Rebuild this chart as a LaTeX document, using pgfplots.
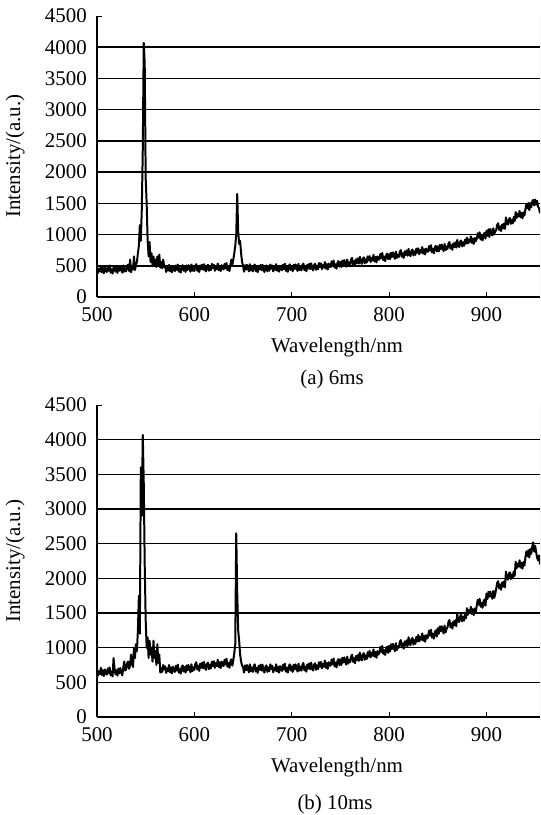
\documentclass[border=0pt]{standalone}
\usepackage{fontspec}
\setmainfont{Liberation Serif}
\usepackage{pgfplots}
\pgfplotsset{compat=1.18}

\begin{document}
\fontsize{21}{25}\selectfont
\begin{tikzpicture}[x=1bp,y=1bp]
\useasboundingbox (0,0) rectangle (541,815);
\pgfplotsset{
  every axis/.append style={
    scale only axis, width=443bp,
    font=\fontsize{21}{25}\selectfont,
    xmin=500, xmax=955, ymin=0, ymax=4500,
    axis x line*=bottom, axis y line*=left,
    x axis line style={line width=2pt, -},
    y axis line style={line width=1.2pt, -},
    xtick={500,600,...,900}, ytick={0,500,...,4500},
    tick style={black, line width=0.8pt},
    major tick length=5bp, tick align=inside,
    extra y ticks={500,1000,...,4000},
    extra y tick labels={},
    extra y tick style={grid=major, major tick length=0pt},
    grid style={black, line width=1.5pt},
    /pgf/number format/assume math mode=true,
    /pgf/number format/1000 sep={},
    yticklabel style={xshift=-3bp},
    xticklabel style={yshift=-3bp},
    clip=true,
  },
  spec/.style={black, line width=2pt, line join=round, mark=none},
}
% ---------------- (a) 6ms ----------------
\begin{axis}[at={(97bp,518bp)}, anchor=south west, height=281bp]
\draw[gray!45, line width=0.8pt] (rel axis cs:1,0) -- (rel axis cs:1,1);
\addplot[spec] coordinates {
(500,480)(501,385)(502,450)(503,410)(504,500)(505,395)(506,465)(507,380)(508,475)(509,425)
(510,400)(511,490)(512,420)(513,505)(514,390)(515,445)(516,375)(517,470)(518,495)(519,405)
(520,465)(521,385)(522,490)(523,420)(524,495)(525,435)(526,390)(527,505)(528,405)(529,460)
(530,410)(531,495)(532,520)(533,415)(534,600)(535,395)(536,500)(537,440)(538,650)(539,430)
(540,520)(541,560)(542,700)(543,820)(544,1150)(545,900)(546,1400)(547,2350)(548,4070)(549,3750)
(550,1900)(551,1500)(552,900)(553,650)(554,880)(555,560)(556,700)(557,520)(558,650)(559,500)
(560,600)(561,480)(562,650)(563,500)(564,680)(565,470)(566,560)(567,460)(568,600)(569,480)
(570,495)(571,400)(572,465)(573,425)(574,515)(575,410)(576,480)(577,395)(578,490)(579,440)
(580,415)(581,505)(582,435)(583,520)(584,405)(585,460)(586,390)(587,485)(588,510)(589,420)
(590,480)(591,400)(592,505)(593,435)(594,510)(595,450)(596,405)(597,520)(598,420)(599,475)
(600,415)(601,500)(602,525)(603,420)(604,475)(605,400)(606,505)(607,445)(608,520)(609,435)
(610,525)(611,435)(612,410)(613,495)(614,515)(615,420)(616,485)(617,430)(618,530)(619,465)
(620,515)(621,420)(622,485)(623,445)(624,535)(625,430)(626,500)(627,415)(628,510)(629,460)
(630,440)(631,530)(632,460)(633,545)(634,430)(635,485)(636,415)(637,510)(638,600)(639,520)
(640,600)(641,700)(642,820)(643,1000)(644,1650)(645,1050)(646,850)(647,900)(648,700)(649,560)
(650,500)(651,405)(652,510)(653,440)(654,515)(655,455)(656,410)(657,525)(658,425)(659,480)
(660,410)(661,495)(662,520)(663,415)(664,470)(665,395)(666,500)(667,440)(668,515)(669,430)
(670,515)(671,425)(672,400)(673,485)(674,505)(675,410)(676,475)(677,420)(678,520)(679,455)
(680,505)(681,410)(682,475)(683,435)(684,525)(685,420)(686,490)(687,405)(688,500)(689,450)
(690,428)(691,518)(692,448)(693,533)(694,418)(695,473)(696,403)(697,498)(698,523)(699,433)
(700,492)(701,412)(702,517)(703,447)(704,522)(705,462)(706,417)(707,532)(708,432)(709,487)
(710,426)(711,511)(712,536)(713,431)(714,486)(715,411)(716,516)(717,456)(718,531)(719,446)
(720,540)(721,450)(722,425)(723,510)(724,530)(725,435)(726,500)(727,445)(728,545)(729,480)
(730,540)(731,445)(732,510)(733,470)(734,560)(735,455)(736,525)(737,440)(738,535)(739,485)
(740,480)(741,570)(742,500)(743,585)(744,470)(745,525)(746,455)(747,550)(748,575)(749,485)
(750,560)(751,480)(752,585)(753,515)(754,590)(755,530)(756,485)(757,600)(758,500)(759,555)
(760,515)(761,600)(762,625)(763,520)(764,575)(765,500)(766,605)(767,545)(768,620)(769,535)
(770,645)(771,555)(772,530)(773,615)(774,635)(775,540)(776,605)(777,550)(778,650)(779,585)
(780,655)(781,560)(782,625)(783,585)(784,675)(785,570)(786,640)(787,555)(788,650)(789,600)
(790,600)(791,690)(792,620)(793,705)(794,590)(795,645)(796,575)(797,670)(798,695)(799,605)
(800,685)(801,605)(802,710)(803,640)(804,715)(805,655)(806,610)(807,725)(808,625)(809,680)
(810,640)(811,725)(812,750)(813,645)(814,700)(815,625)(816,730)(817,670)(818,745)(819,660)
(820,770)(821,680)(822,655)(823,740)(824,760)(825,665)(826,730)(827,675)(828,775)(829,710)
(830,780)(831,685)(832,750)(833,710)(834,800)(835,695)(836,765)(837,680)(838,775)(839,725)
(840,725)(841,815)(842,745)(843,830)(844,715)(845,770)(846,700)(847,795)(848,820)(849,730)
(850,810)(851,730)(852,835)(853,765)(854,840)(855,780)(856,735)(857,850)(858,750)(859,805)
(860,770)(861,855)(862,880)(863,775)(864,830)(865,755)(866,860)(867,800)(868,875)(869,790)
(870,915)(871,825)(872,800)(873,885)(874,905)(875,810)(876,875)(877,820)(878,920)(879,855)
(880,950)(881,855)(882,920)(883,880)(884,970)(885,865)(886,935)(887,850)(888,945)(889,895)
(890,930)(891,1020)(892,950)(893,1035)(894,920)(895,975)(896,905)(897,1000)(898,1025)(899,935)
(900,1060)(901,980)(902,1085)(903,960)(904,1090)(905,1030)(906,985)(907,1100)(908,1000)(909,1055)
(910,1070)(911,1155)(912,1180)(913,1075)(914,1130)(915,1055)(916,1160)(917,1100)(918,1175)(919,1090)
(920,1275)(921,1185)(922,1160)(923,1245)(924,1265)(925,1170)(926,1235)(927,1180)(928,1280)(929,1215)
(930,1360)(931,1265)(932,1330)(933,1290)(934,1380)(935,1275)(936,1345)(937,1260)(938,1355)(939,1305)
(940,1400)(941,1490)(942,1420)(943,1505)(944,1390)(945,1505)(946,1435)(947,1530)(948,1555)(949,1465)
(950,1560)(951,1480)(952,1540)(953,1450)(954,1420)(955,1340)
};
\end{axis}
% ---------------- (b) 10ms ----------------
\begin{axis}[at={(97bp,98bp)}, anchor=south west, height=312bp]
\draw[gray!45, line width=0.8pt] (rel axis cs:1,0) -- (rel axis cs:1,1);
\addplot[spec] coordinates {
(500,690)(501,595)(502,660)(503,620)(504,710)(505,605)(506,675)(507,590)(508,685)(509,635)
(510,610)(511,700)(512,630)(513,715)(514,600)(515,655)(516,585)(517,850)(518,705)(519,615)
(520,675)(521,595)(522,700)(523,630)(524,705)(525,645)(526,600)(527,715)(528,800)(529,670)
(530,690)(531,775)(532,800)(533,695)(534,750)(535,900)(536,780)(537,720)(538,1000)(539,850)
(540,1050)(541,950)(542,1250)(543,1750)(544,1200)(545,3600)(546,2900)(547,4070)(548,3400)(549,2200)
(550,1400)(551,1000)(552,1150)(553,850)(554,1100)(555,900)(556,1000)(557,800)(558,1100)(559,850)
(560,950)(561,750)(562,1050)(563,780)(564,900)(565,640)(566,705)(567,650)(568,750)(569,685)
(570,730)(571,635)(572,700)(573,660)(574,750)(575,645)(576,715)(577,630)(578,725)(579,675)
(580,650)(581,740)(582,670)(583,755)(584,640)(585,695)(586,625)(587,720)(588,745)(589,655)
(590,720)(591,640)(592,745)(593,675)(594,750)(595,690)(596,645)(597,760)(598,660)(599,715)
(600,680)(601,765)(602,790)(603,685)(604,740)(605,665)(606,770)(607,710)(608,785)(609,700)
(610,795)(611,705)(612,680)(613,765)(614,785)(615,690)(616,755)(617,700)(618,800)(619,735)
(620,805)(621,710)(622,775)(623,735)(624,825)(625,720)(626,790)(627,705)(628,800)(629,750)
(630,735)(631,825)(632,755)(633,840)(634,725)(635,780)(636,710)(637,805)(638,830)(639,740)
(640,820)(641,920)(642,1050)(643,2650)(644,1800)(645,1250)(646,1100)(647,900)(648,800)(649,740)
(650,720)(651,640)(652,745)(653,675)(654,750)(655,690)(656,645)(657,760)(658,660)(659,715)
(660,650)(661,735)(662,760)(663,655)(664,710)(665,635)(666,740)(667,680)(668,755)(669,670)
(670,755)(671,665)(672,640)(673,725)(674,745)(675,650)(676,715)(677,660)(678,760)(679,695)
(680,740)(681,645)(682,710)(683,670)(684,760)(685,655)(686,725)(687,640)(688,735)(689,685)
(690,665)(691,755)(692,685)(693,770)(694,655)(695,710)(696,640)(697,735)(698,760)(699,670)
(700,730)(701,650)(702,755)(703,685)(704,760)(705,700)(706,655)(707,770)(708,670)(709,725)
(710,668)(711,753)(712,778)(713,673)(714,728)(715,653)(716,758)(717,698)(718,773)(719,688)
(720,785)(721,695)(722,670)(723,755)(724,775)(725,680)(726,745)(727,690)(728,790)(729,725)
(730,795)(731,700)(732,765)(733,725)(734,815)(735,710)(736,780)(737,695)(738,790)(739,740)
(740,740)(741,830)(742,760)(743,845)(744,730)(745,785)(746,715)(747,810)(748,835)(749,745)
(750,830)(751,750)(752,855)(753,785)(754,860)(755,800)(756,755)(757,870)(758,770)(759,825)
(760,790)(761,875)(762,900)(763,795)(764,850)(765,775)(766,880)(767,820)(768,895)(769,810)
(770,930)(771,840)(772,815)(773,900)(774,920)(775,825)(776,890)(777,835)(778,935)(779,870)
(780,955)(781,860)(782,925)(783,885)(784,975)(785,870)(786,940)(787,855)(788,950)(789,900)
(790,920)(791,1010)(792,940)(793,1025)(794,910)(795,965)(796,895)(797,990)(798,1015)(799,925)
(800,1025)(801,945)(802,1050)(803,980)(804,1055)(805,995)(806,950)(807,1065)(808,965)(809,1020)
(810,1000)(811,1085)(812,1110)(813,1005)(814,1060)(815,985)(816,1090)(817,1030)(818,1105)(819,1020)
(820,1150)(821,1060)(822,1035)(823,1120)(824,1140)(825,1045)(826,1110)(827,1055)(828,1155)(829,1090)
(830,1185)(831,1090)(832,1155)(833,1115)(834,1205)(835,1100)(836,1170)(837,1085)(838,1180)(839,1130)
(840,1155)(841,1245)(842,1175)(843,1260)(844,1145)(845,1200)(846,1130)(847,1225)(848,1250)(849,1160)
(850,1280)(851,1200)(852,1305)(853,1235)(854,1310)(855,1250)(856,1205)(857,1320)(858,1220)(859,1275)
(860,1290)(861,1375)(862,1400)(863,1295)(864,1350)(865,1275)(866,1380)(867,1320)(868,1395)(869,1310)
(870,1485)(871,1395)(872,1370)(873,1455)(874,1475)(875,1380)(876,1445)(877,1390)(878,1490)(879,1425)
(880,1570)(881,1475)(882,1540)(883,1500)(884,1590)(885,1485)(886,1555)(887,1470)(888,1565)(889,1515)
(890,1600)(891,1690)(892,1620)(893,1705)(894,1590)(895,1645)(896,1575)(897,1670)(898,1695)(899,1605)
(900,1780)(901,1700)(902,1805)(903,1735)(904,1810)(905,1750)(906,1705)(907,1820)(908,1720)(909,1775)
(910,1850)(911,1935)(912,1960)(913,1855)(914,1910)(915,1835)(916,1940)(917,1880)(918,1955)(919,1870)
(920,2095)(921,2005)(922,1980)(923,2065)(924,2085)(925,1990)(926,2055)(927,2000)(928,2100)(929,2035)
(930,2240)(931,2145)(932,2210)(933,2170)(934,2260)(935,2155)(936,2225)(937,2140)(938,2235)(939,2185)
(940,2300)(941,2390)(942,2320)(943,2405)(944,2300)(945,2425)(946,2355)(947,2450)(948,2520)(949,2385)
(950,2470)(951,2380)(952,2300)(953,2260)(954,2330)(955,2200)
};
\end{axis}
\node[rotate=90] at (15bp,659bp) {Intensity/(a.u.)};
\node[rotate=90] at (15bp,254bp) {Intensity/(a.u.)};
\node at (337bp,467bp) {Wavelength/nm};
\node at (332bp,436bp) {(a) 6ms};
\node at (337bp,47bp) {Wavelength/nm};
\node at (335bp,11bp) {(b) 10ms};
\end{tikzpicture}
\end{document}
